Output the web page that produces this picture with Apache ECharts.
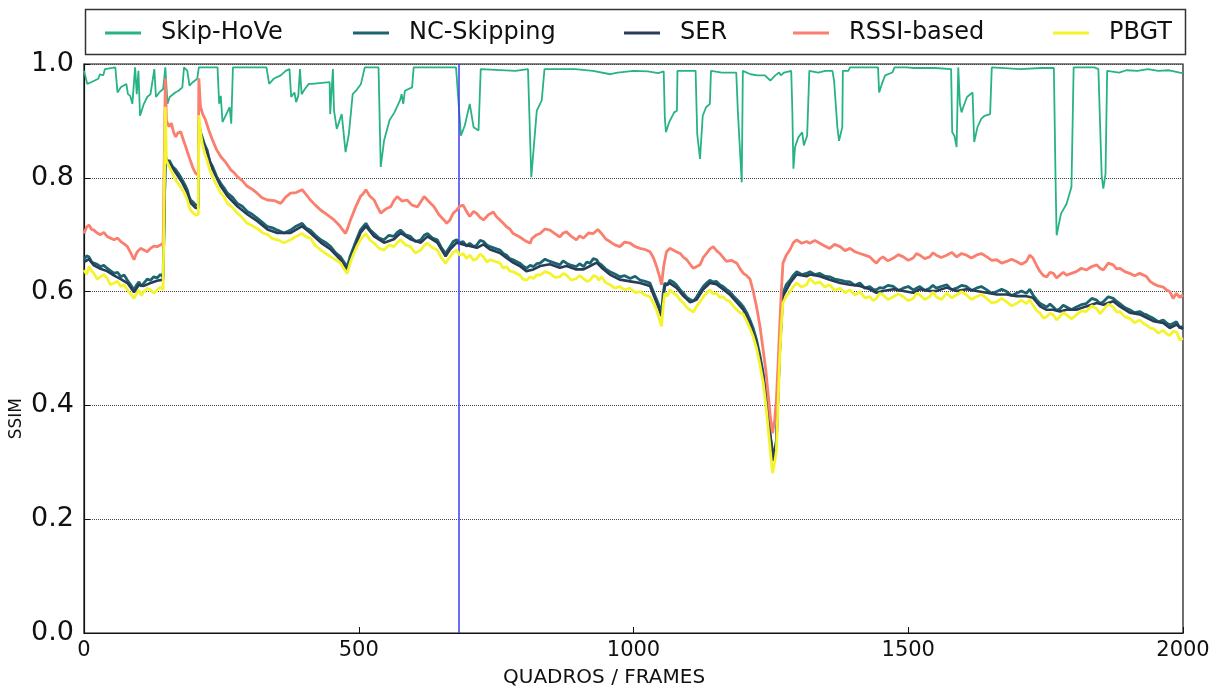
<!DOCTYPE html>
<html>
<head>
<meta charset="utf-8">
<script src="https://cdn.jsdelivr.net/npm/echarts@6/dist/echarts.min.js"></script>
<style>
html,body{margin:0;padding:0;background:#fff;}
#chart{width:1227px;height:693px;}
</style>
</head>
<body>
<div id="chart"></div>
<script>
// ---- data (frame, SSIM) ----
const seriesNames = ['Skip-HoVe','NC-Skipping','SER','RSSI-based','PBGT'];
const xTicks = [0,500,1000,1500,2000];
const yTicks = [0.0,0.2,0.4,0.6,0.8,1.0];
const handoverFrame = 682;

const skipHoVe = [[0,0.988],[6,0.965],[13,0.968],[26,0.974],[29,0.982],[35,0.980],[38,0.991],[57,0.994],[61,0.950],[67,0.959],[77,0.965],[80,0.947],[84,0.944],[88,0.930],[93,0.994],[96,0.947],[99,0.988],[102,0.909],[109,0.930],[115,0.942],[121,0.947],[128,0.991],[131,0.942],[137,0.950],[144,0.956],[148,0.994],[152,0.930],[156,0.942],[166,0.950],[172,0.953],[179,0.959],[182,0.994],[188,0.988],[192,0.962],[198,0.968],[206,0.974],[209,0.994],[243,0.994],[246,0.930],[249,0.944],[252,0.898],[259,0.912],[265,0.924],[268,0.895],[271,0.994],[332,0.994],[337,0.965],[345,0.974],[358,0.980],[367,0.988],[374,0.991],[377,0.942],[383,0.950],[386,0.933],[390,0.944],[393,0.991],[396,0.947],[402,0.956],[409,0.965],[415,0.965],[447,0.968],[448,0.912],[453,0.991],[455,0.918],[460,0.886],[469,0.912],[476,0.845],[482,0.877],[489,0.947],[495,0.953],[504,0.965],[511,0.994],[536,0.994],[540,0.819],[546,0.865],[556,0.901],[565,0.915],[575,0.936],[578,0.947],[581,0.930],[584,0.953],[597,0.959],[600,0.994],[677,0.994],[680,0.991],[686,0.874],[693,0.892],[702,0.930],[709,0.889],[718,0.883],[722,0.991],[785,0.988],[808,0.991],[811,0.988],[814,0.801],[821,0.883],[824,0.918],[833,0.936],[838,0.991],[894,0.991],[926,0.988],[958,0.982],[971,0.985],[1000,0.988],[1026,0.987],[1045,0.984],[1055,0.987],[1057,0.906],[1059,0.880],[1065,0.898],[1074,0.915],[1079,0.918],[1080,0.988],[1113,0.988],[1116,0.877],[1121,0.833],[1126,0.909],[1132,0.924],[1139,0.930],[1141,0.988],[1161,0.985],[1187,0.985],[1190,0.915],[1197,0.792],[1199,0.988],[1213,0.982],[1226,0.980],[1239,0.980],[1249,0.971],[1258,0.980],[1265,0.985],[1268,0.980],[1274,0.985],[1287,0.988],[1289,0.921],[1291,0.816],[1294,0.854],[1300,0.871],[1307,0.880],[1310,0.857],[1316,0.874],[1320,0.988],[1336,0.985],[1349,0.988],[1362,0.988],[1365,0.971],[1371,0.889],[1374,0.865],[1380,0.889],[1381,0.988],[1391,0.988],[1394,0.994],[1445,0.994],[1447,0.950],[1452,0.965],[1458,0.980],[1471,0.985],[1475,0.994],[1497,0.994],[1510,0.993],[1549,0.993],[1578,0.991],[1580,0.880],[1584,0.874],[1588,0.854],[1591,0.994],[1594,0.930],[1597,0.915],[1600,0.924],[1607,0.942],[1617,0.950],[1620,0.863],[1626,0.889],[1633,0.904],[1639,0.909],[1649,0.912],[1652,0.994],[1704,0.991],[1742,0.993],[1765,0.993],[1768,0.801],[1770,0.699],[1778,0.737],[1788,0.754],[1797,0.784],[1801,0.994],[1839,0.994],[1846,0.991],[1852,0.804],[1855,0.781],[1859,0.807],[1862,0.988],[1884,0.985],[1897,0.989],[1917,0.988],[1936,0.991],[1955,0.988],[1975,0.989],[1994,0.985],[2000,0.984]];

const ncSkipping = [[0,0.656],[5,0.663],[9,0.661],[14,0.652],[18,0.650],[24,0.648],[30,0.644],[36,0.646],[42,0.641],[48,0.637],[55,0.632],[61,0.634],[67,0.626],[73,0.629],[79,0.620],[85,0.612],[91,0.603],[96,0.612],[100,0.617],[104,0.609],[109,0.615],[115,0.622],[121,0.620],[127,0.626],[133,0.624],[139,0.630],[144,0.626],[146,0.628],[148,0.840],[152,0.826],[155,0.831],[161,0.820],[167,0.814],[173,0.806],[179,0.796],[184,0.787],[188,0.779],[191,0.768],[194,0.761],[199,0.757],[203,0.752],[208,0.752],[209,0.896],[212,0.880],[215,0.872],[220,0.857],[224,0.849],[229,0.828],[234,0.820],[241,0.803],[249,0.790],[255,0.782],[261,0.773],[270,0.766],[279,0.755],[288,0.750],[297,0.741],[306,0.736],[315,0.729],[324,0.722],[334,0.714],[343,0.712],[352,0.708],[364,0.703],[376,0.708],[386,0.715],[397,0.720],[404,0.712],[412,0.708],[421,0.699],[431,0.691],[440,0.686],[449,0.679],[458,0.668],[467,0.661],[473,0.652],[479,0.644],[485,0.664],[491,0.679],[497,0.694],[503,0.708],[508,0.714],[513,0.720],[520,0.709],[528,0.702],[537,0.694],[546,0.691],[555,0.699],[564,0.697],[570,0.704],[576,0.708],[585,0.700],[594,0.697],[603,0.688],[613,0.691],[619,0.699],[625,0.702],[634,0.694],[643,0.691],[650,0.678],[658,0.667],[662,0.673],[666,0.679],[672,0.688],[678,0.691],[684,0.686],[690,0.688],[696,0.680],[702,0.685],[709,0.679],[715,0.682],[721,0.690],[727,0.688],[733,0.682],[739,0.679],[748,0.676],[757,0.673],[763,0.667],[769,0.664],[775,0.658],[781,0.656],[787,0.653],[793,0.650],[799,0.645],[805,0.641],[812,0.646],[818,0.644],[824,0.649],[830,0.650],[839,0.657],[848,0.653],[857,0.650],[866,0.647],[872,0.654],[878,0.650],[887,0.646],[896,0.644],[902,0.649],[909,0.644],[915,0.652],[921,0.650],[927,0.658],[933,0.656],[937,0.650],[942,0.647],[949,0.640],[957,0.635],[966,0.631],[975,0.626],[984,0.628],[994,0.623],[1003,0.627],[1012,0.620],[1021,0.618],[1030,0.615],[1036,0.600],[1042,0.586],[1047,0.574],[1051,0.562],[1054,0.597],[1057,0.615],[1062,0.612],[1066,0.620],[1072,0.617],[1078,0.612],[1085,0.603],[1091,0.597],[1097,0.590],[1103,0.586],[1109,0.583],[1115,0.591],[1121,0.600],[1127,0.609],[1133,0.615],[1139,0.620],[1145,0.617],[1151,0.618],[1157,0.612],[1163,0.609],[1169,0.604],[1175,0.600],[1182,0.592],[1188,0.586],[1194,0.580],[1200,0.573],[1206,0.563],[1212,0.550],[1218,0.535],[1224,0.515],[1230,0.488],[1236,0.457],[1241,0.420],[1245,0.380],[1250,0.340],[1255,0.307],[1260,0.339],[1263,0.420],[1266,0.497],[1269,0.560],[1272,0.597],[1278,0.612],[1285,0.620],[1291,0.629],[1297,0.635],[1306,0.630],[1315,0.632],[1321,0.635],[1330,0.630],[1339,0.632],[1348,0.627],[1357,0.626],[1366,0.622],[1376,0.620],[1385,0.618],[1394,0.617],[1403,0.611],[1412,0.615],[1421,0.606],[1430,0.609],[1436,0.604],[1442,0.603],[1448,0.607],[1454,0.606],[1463,0.611],[1473,0.609],[1482,0.602],[1491,0.606],[1500,0.609],[1509,0.603],[1515,0.606],[1521,0.609],[1530,0.602],[1539,0.606],[1545,0.611],[1551,0.606],[1560,0.609],[1570,0.612],[1579,0.603],[1588,0.606],[1597,0.611],[1606,0.609],[1615,0.602],[1624,0.606],[1633,0.609],[1643,0.603],[1652,0.597],[1661,0.600],[1670,0.604],[1679,0.600],[1688,0.593],[1697,0.597],[1706,0.601],[1715,0.597],[1721,0.604],[1727,0.594],[1734,0.585],[1740,0.579],[1746,0.576],[1752,0.573],[1758,0.578],[1764,0.573],[1770,0.567],[1776,0.570],[1782,0.576],[1788,0.573],[1797,0.568],[1806,0.573],[1815,0.577],[1824,0.579],[1834,0.588],[1843,0.585],[1849,0.579],[1855,0.582],[1864,0.591],[1873,0.588],[1879,0.583],[1885,0.579],[1894,0.572],[1903,0.568],[1912,0.563],[1921,0.565],[1928,0.561],[1934,0.559],[1940,0.556],[1946,0.553],[1955,0.547],[1964,0.550],[1970,0.545],[1976,0.541],[1982,0.544],[1988,0.547],[1994,0.536],[2000,0.539]];

const ser = [[0,0.652],[9,0.657],[18,0.646],[30,0.640],[42,0.636],[55,0.628],[67,0.622],[79,0.615],[91,0.599],[100,0.612],[109,0.610],[121,0.615],[133,0.619],[144,0.621],[146,0.623],[148,0.835],[155,0.826],[167,0.809],[179,0.791],[188,0.774],[194,0.756],[203,0.747],[208,0.747],[209,0.890],[215,0.867],[224,0.844],[234,0.815],[249,0.785],[261,0.768],[279,0.750],[297,0.736],[315,0.724],[334,0.709],[352,0.703],[376,0.703],[397,0.715],[412,0.703],[431,0.686],[449,0.674],[467,0.656],[479,0.639],[491,0.674],[503,0.703],[513,0.715],[528,0.697],[546,0.686],[564,0.692],[576,0.703],[594,0.692],[613,0.686],[625,0.697],[643,0.686],[658,0.662],[666,0.674],[678,0.686],[690,0.683],[702,0.680],[715,0.677],[727,0.683],[739,0.674],[757,0.668],[769,0.659],[781,0.651],[793,0.645],[805,0.636],[818,0.639],[830,0.645],[848,0.648],[866,0.642],[878,0.645],[896,0.639],[909,0.639],[921,0.645],[933,0.651],[942,0.642],[957,0.630],[975,0.621],[994,0.618],[1012,0.615],[1030,0.610],[1042,0.581],[1051,0.557],[1057,0.610],[1066,0.615],[1078,0.607],[1091,0.592],[1103,0.581],[1115,0.586],[1127,0.604],[1139,0.615],[1151,0.613],[1163,0.604],[1175,0.595],[1188,0.581],[1200,0.568],[1212,0.545],[1224,0.510],[1236,0.452],[1245,0.375],[1255,0.302],[1260,0.334],[1266,0.492],[1272,0.592],[1285,0.615],[1297,0.630],[1315,0.627],[1321,0.630],[1339,0.627],[1357,0.621],[1376,0.615],[1394,0.612],[1412,0.610],[1430,0.604],[1442,0.598],[1454,0.601],[1473,0.604],[1491,0.601],[1509,0.598],[1521,0.604],[1539,0.601],[1551,0.601],[1570,0.607],[1588,0.601],[1606,0.604],[1624,0.601],[1643,0.598],[1661,0.595],[1679,0.595],[1697,0.592],[1715,0.592],[1727,0.589],[1740,0.574],[1752,0.568],[1764,0.568],[1776,0.565],[1788,0.568],[1806,0.568],[1824,0.574],[1843,0.580],[1855,0.577],[1873,0.583],[1885,0.574],[1903,0.563],[1921,0.560],[1934,0.554],[1946,0.548],[1964,0.545],[1976,0.536],[1988,0.542],[2000,0.534]];

const rssiBased = [[0,0.702],[5,0.714],[9,0.717],[14,0.709],[18,0.708],[24,0.703],[30,0.700],[36,0.704],[42,0.697],[48,0.694],[55,0.691],[61,0.694],[67,0.688],[73,0.684],[79,0.679],[85,0.668],[91,0.656],[94,0.664],[97,0.670],[103,0.676],[109,0.673],[115,0.670],[121,0.676],[127,0.680],[133,0.679],[139,0.682],[144,0.685],[146,0.685],[148,0.975],[150,0.900],[155,0.890],[159,0.896],[163,0.880],[167,0.872],[171,0.879],[176,0.881],[181,0.866],[185,0.855],[189,0.843],[193,0.832],[198,0.818],[203,0.808],[208,0.805],[209,0.975],[212,0.925],[216,0.912],[221,0.902],[227,0.884],[234,0.866],[241,0.850],[249,0.837],[258,0.827],[267,0.814],[273,0.809],[279,0.802],[288,0.795],[297,0.785],[306,0.780],[315,0.773],[324,0.765],[334,0.761],[346,0.760],[358,0.755],[367,0.766],[376,0.773],[386,0.774],[397,0.779],[404,0.771],[412,0.761],[421,0.752],[431,0.743],[443,0.735],[455,0.726],[465,0.716],[476,0.702],[480,0.712],[485,0.726],[494,0.748],[503,0.767],[508,0.772],[513,0.779],[520,0.768],[528,0.761],[534,0.749],[540,0.738],[549,0.745],[558,0.749],[564,0.760],[570,0.767],[579,0.759],[588,0.761],[597,0.752],[607,0.749],[613,0.758],[619,0.767],[628,0.758],[637,0.749],[646,0.735],[655,0.726],[660,0.720],[666,0.726],[672,0.738],[678,0.743],[684,0.750],[690,0.752],[696,0.741],[702,0.732],[709,0.741],[715,0.737],[721,0.730],[727,0.726],[736,0.735],[745,0.740],[751,0.731],[757,0.726],[763,0.720],[769,0.714],[775,0.710],[781,0.702],[787,0.699],[793,0.696],[802,0.690],[812,0.685],[815,0.693],[818,0.696],[824,0.700],[830,0.702],[839,0.710],[848,0.708],[857,0.702],[866,0.696],[872,0.703],[878,0.705],[887,0.697],[896,0.691],[902,0.698],[909,0.694],[918,0.703],[927,0.702],[935,0.709],[942,0.702],[950,0.692],[957,0.688],[966,0.682],[975,0.679],[984,0.687],[994,0.685],[1003,0.679],[1012,0.676],[1021,0.674],[1030,0.670],[1036,0.660],[1042,0.644],[1047,0.628],[1051,0.612],[1055,0.645],[1060,0.670],[1066,0.676],[1072,0.673],[1078,0.670],[1085,0.667],[1091,0.660],[1097,0.656],[1103,0.648],[1109,0.641],[1115,0.644],[1121,0.647],[1127,0.660],[1133,0.667],[1139,0.675],[1145,0.679],[1151,0.672],[1157,0.667],[1163,0.660],[1169,0.653],[1178,0.655],[1188,0.650],[1194,0.640],[1200,0.632],[1206,0.628],[1212,0.622],[1218,0.600],[1224,0.573],[1230,0.540],[1236,0.497],[1241,0.460],[1245,0.420],[1249,0.380],[1253,0.351],[1257,0.375],[1260,0.410],[1263,0.470],[1266,0.538],[1269,0.600],[1272,0.650],[1278,0.664],[1285,0.674],[1291,0.686],[1297,0.691],[1306,0.685],[1315,0.688],[1321,0.685],[1330,0.690],[1339,0.685],[1348,0.680],[1357,0.676],[1366,0.683],[1376,0.679],[1385,0.672],[1394,0.676],[1403,0.670],[1412,0.667],[1421,0.664],[1430,0.661],[1436,0.655],[1442,0.650],[1448,0.657],[1454,0.661],[1463,0.654],[1473,0.659],[1482,0.665],[1491,0.661],[1500,0.655],[1509,0.659],[1515,0.667],[1521,0.664],[1530,0.658],[1539,0.661],[1545,0.668],[1551,0.664],[1560,0.660],[1570,0.664],[1579,0.669],[1588,0.661],[1597,0.667],[1606,0.664],[1615,0.659],[1624,0.664],[1633,0.667],[1643,0.661],[1652,0.655],[1661,0.656],[1670,0.650],[1679,0.653],[1688,0.657],[1697,0.653],[1706,0.648],[1715,0.653],[1721,0.664],[1727,0.659],[1734,0.645],[1740,0.635],[1746,0.628],[1752,0.626],[1758,0.634],[1764,0.632],[1770,0.624],[1776,0.629],[1782,0.634],[1788,0.629],[1797,0.632],[1806,0.635],[1815,0.641],[1824,0.638],[1834,0.644],[1843,0.647],[1849,0.641],[1855,0.638],[1864,0.650],[1873,0.647],[1879,0.640],[1885,0.641],[1894,0.635],[1903,0.632],[1912,0.628],[1921,0.632],[1928,0.629],[1934,0.626],[1940,0.618],[1946,0.614],[1955,0.610],[1964,0.608],[1970,0.603],[1976,0.600],[1982,0.588],[1988,0.597],[1994,0.590],[2000,0.594]];

const pbgt = [[0,0.638],[5,0.630],[9,0.644],[14,0.636],[18,0.632],[24,0.622],[30,0.626],[36,0.630],[42,0.624],[48,0.612],[55,0.615],[61,0.618],[67,0.609],[73,0.612],[79,0.603],[85,0.596],[91,0.588],[96,0.597],[100,0.603],[104,0.593],[109,0.600],[115,0.606],[121,0.603],[127,0.597],[133,0.603],[139,0.608],[144,0.603],[146,0.603],[148,0.925],[150,0.830],[155,0.820],[161,0.808],[167,0.796],[173,0.788],[179,0.779],[184,0.770],[188,0.761],[191,0.750],[194,0.743],[199,0.738],[203,0.735],[208,0.735],[209,0.910],[212,0.880],[215,0.861],[220,0.842],[224,0.831],[229,0.813],[234,0.802],[241,0.787],[249,0.773],[255,0.766],[261,0.755],[270,0.748],[279,0.738],[288,0.730],[297,0.720],[306,0.716],[315,0.711],[324,0.704],[334,0.700],[343,0.693],[352,0.691],[364,0.686],[376,0.691],[386,0.697],[397,0.702],[404,0.696],[412,0.694],[421,0.681],[431,0.673],[440,0.667],[449,0.661],[458,0.656],[467,0.650],[473,0.640],[479,0.632],[485,0.652],[491,0.667],[497,0.680],[503,0.691],[508,0.697],[513,0.702],[520,0.691],[528,0.685],[537,0.676],[546,0.673],[555,0.682],[564,0.679],[570,0.686],[576,0.691],[585,0.682],[594,0.679],[603,0.668],[613,0.673],[619,0.681],[625,0.685],[634,0.677],[643,0.673],[650,0.660],[658,0.650],[662,0.656],[666,0.661],[672,0.669],[678,0.673],[684,0.664],[690,0.667],[696,0.658],[702,0.664],[709,0.655],[715,0.658],[721,0.666],[727,0.661],[733,0.652],[739,0.656],[748,0.653],[757,0.650],[763,0.641],[769,0.644],[775,0.636],[781,0.635],[787,0.632],[793,0.629],[799,0.622],[805,0.620],[812,0.626],[818,0.623],[824,0.630],[830,0.629],[839,0.635],[848,0.632],[857,0.625],[866,0.626],[872,0.632],[878,0.629],[887,0.620],[896,0.623],[902,0.628],[909,0.623],[915,0.618],[921,0.620],[927,0.628],[933,0.626],[937,0.620],[942,0.626],[949,0.616],[957,0.612],[966,0.606],[975,0.609],[984,0.603],[994,0.606],[1003,0.598],[1012,0.600],[1021,0.594],[1030,0.591],[1036,0.580],[1042,0.568],[1047,0.552],[1051,0.539],[1054,0.575],[1057,0.597],[1062,0.592],[1066,0.603],[1072,0.598],[1078,0.594],[1085,0.585],[1091,0.580],[1097,0.572],[1103,0.568],[1109,0.564],[1115,0.574],[1121,0.582],[1127,0.591],[1133,0.597],[1139,0.603],[1145,0.596],[1151,0.597],[1157,0.590],[1163,0.591],[1169,0.585],[1175,0.583],[1182,0.574],[1188,0.568],[1194,0.563],[1200,0.560],[1206,0.548],[1212,0.535],[1218,0.520],[1224,0.500],[1230,0.472],[1236,0.440],[1241,0.400],[1245,0.360],[1249,0.320],[1253,0.281],[1257,0.300],[1260,0.320],[1263,0.400],[1266,0.480],[1269,0.540],[1272,0.580],[1278,0.592],[1285,0.600],[1291,0.609],[1297,0.615],[1306,0.608],[1315,0.612],[1321,0.623],[1330,0.614],[1339,0.617],[1348,0.608],[1357,0.612],[1366,0.602],[1376,0.606],[1385,0.598],[1394,0.603],[1403,0.594],[1412,0.600],[1421,0.589],[1430,0.591],[1436,0.584],[1442,0.588],[1448,0.597],[1454,0.594],[1463,0.586],[1473,0.591],[1482,0.596],[1491,0.591],[1500,0.584],[1509,0.588],[1515,0.597],[1521,0.594],[1530,0.586],[1539,0.591],[1545,0.599],[1551,0.591],[1560,0.586],[1570,0.597],[1579,0.589],[1588,0.594],[1597,0.600],[1606,0.594],[1615,0.586],[1624,0.591],[1633,0.595],[1643,0.588],[1652,0.580],[1661,0.582],[1670,0.588],[1679,0.582],[1688,0.575],[1697,0.579],[1706,0.585],[1715,0.579],[1721,0.586],[1727,0.576],[1734,0.566],[1740,0.562],[1746,0.553],[1752,0.556],[1758,0.562],[1764,0.559],[1770,0.550],[1776,0.556],[1782,0.563],[1788,0.559],[1797,0.552],[1806,0.559],[1815,0.566],[1824,0.565],[1834,0.575],[1843,0.570],[1849,0.561],[1855,0.568],[1864,0.578],[1873,0.573],[1879,0.564],[1885,0.565],[1894,0.556],[1903,0.553],[1912,0.545],[1921,0.550],[1928,0.544],[1934,0.541],[1940,0.536],[1946,0.535],[1955,0.527],[1964,0.532],[1970,0.526],[1976,0.523],[1982,0.530],[1988,0.529],[1994,0.515],[2000,0.518]];

// ---- styling ----
const colors = ['#27b386','#1c6570','#2a3d58','#fa7f6e','#f4f42e'];
const widths = [1.8, 2.8, 2.6, 2.8, 2.8];
const allData = [skipHoVe, ncSkipping, ser, rssiBased, pbgt];
const legendLefts = [100, 348, 619, 788, 1048];

const chart = echarts.init(document.getElementById('chart'), null, {renderer:'canvas'});

const series = seriesNames.map((name, i) => {
  const s = {
    name: name,
    type: 'line',
    data: allData[i],
    showSymbol: false,
    symbol: 'none',
    animation: false,
    lineStyle: {color: colors[i], width: widths[i]},
    itemStyle: {color: colors[i]},
    z: 2 + i
  };
  if (i === 4) {
    s.markLine = {
      silent: true,
      symbol: ['none','none'],
      label: {show: false},
      lineStyle: {color: '#3b3bf0', width: 1.5, type: 'solid'},
      data: [{xAxis: handoverFrame}],
      animation: false
    };
  }
  return s;
});

const legends = seriesNames.map((name, i) => ({
  data: [name],
  left: legendLefts[i],
  top: 16,
  icon: 'rect',
  itemWidth: 36,
  itemHeight: 3,
  itemGap: 0,
  selectedMode: false,
  textStyle: {fontFamily: 'DejaVu Sans', fontSize: 24, color: '#111', padding: [0,0,0,15]}
}));

chart.setOption({
  backgroundColor: '#ffffff',
  animation: false,
  legend: legends,
  grid: {left: 84, right: 44, top: 64, bottom: 60, show: true, borderColor: '#111', borderWidth: 1.2, backgroundColor: 'transparent'},
  xAxis: {
    type: 'value', min: 0, max: 2000, interval: 500,
    axisLine: {show: true, lineStyle: {color: '#111', width: 1.2}},
    axisTick: {show: true, inside: true, length: 6, lineStyle: {color: '#111'}},
    axisLabel: {color: '#111', fontSize: 21, fontFamily: 'DejaVu Sans', margin: 7,
      formatter: v => String(v)},
    splitLine: {show: false}
  },
  yAxis: {
    type: 'value', min: 0, max: 1, interval: 0.2,
    axisLine: {show: true, lineStyle: {color: '#111', width: 1.2}},
    axisTick: {show: true, inside: true, length: 6, lineStyle: {color: '#111'}},
    axisLabel: {color: '#111', fontSize: 27, fontFamily: 'DejaVu Sans', margin: 10,
      formatter: v => v.toFixed(1)},
    splitLine: {show: true, lineStyle: {color: '#444', type: 'dotted', width: 1}}
  },
  graphic: [
    {type: 'rect', left: 83, top: 7, shape: {width: 1100, height: 45},
     style: {fill: 'none', stroke: '#333', lineWidth: 1.5}, silent: true, z: 0},
    {type: 'text', left: 503, top: 668,
     style: {text: 'QUADROS / FRAMES', font: '20px "DejaVu Sans"', fill: '#111'}},
    {type: 'text', left: 8, top: 398, rotation: Math.PI/2,
     style: {text: 'SSIM', font: '17px "DejaVu Sans"', fill: '#111'}}
  ],
  series: series
});
</script>
</body>
</html>
